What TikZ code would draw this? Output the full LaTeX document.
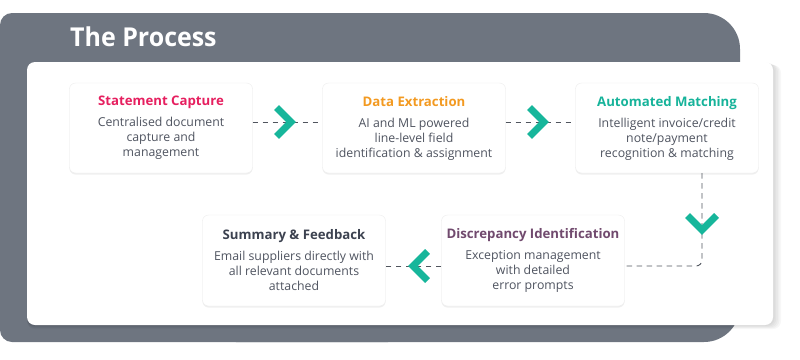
\documentclass[tikz,border=0pt]{standalone}
\usepackage{fontspec}
\setmainfont{Open Sans}
\newfontfamily\titlefont[FakeStretch=0.96]{Open Sans Bold}
\usetikzlibrary{shadows}
\definecolor{bggray}{HTML}{6E7580}
\definecolor{cpink}{HTML}{E61F5F}
\definecolor{corange}{HTML}{F39A21}
\definecolor{cteal}{HTML}{16B39A}
\definecolor{chev}{HTML}{17B69B}
\definecolor{cslate}{HTML}{3C4250}
\definecolor{cplum}{HTML}{714A6E}
\definecolor{cbody}{HTML}{4F5460}
\definecolor{cdash}{HTML}{50555E}
\tikzset{
  card/.style={rectangle, rounded corners=6pt, fill=white, draw=black!7,
    minimum width=183pt, minimum height=90pt, align=center, inner sep=0pt,
    font=\fontsize{12.3}{15}\selectfont, text=cbody,
    drop shadow={opacity=0.12, shadow xshift=0pt, shadow yshift=-1.5pt}},
  conn/.style={draw=cdash, line width=0.9pt, dash pattern=on 5.5pt off 4.5pt},
  chevline/.style={draw=chev, line width=7pt, line join=miter},
  chevright/.pic={\draw[chevline] (-9.5,-14.5) -- (5,0) -- (-9.5,14.5);},
  chevleft/.pic={\draw[chevline] (9.5,-14.5) -- (-5,0) -- (9.5,14.5);},
  chevdown/.pic={\draw[chevline] (-14.5,-9.5) -- (0,5) -- (14.5,-9.5);}
}
\newcommand{\cardtext}[3]{{\fontsize{13.2}{15}\selectfont\bfseries\color{#1}#2}\\[6pt]#3}
\begin{document}
\begin{tikzpicture}[x=1pt,y=-1pt]
\useasboundingbox (0,0) rectangle (800,359);
% gray background
\fill[bggray, rounded corners=12pt] (0,13) rectangle (400,342);
\fill[bggray, rounded corners=36pt] (200,13) rectangle (740,342);
\node[anchor=base west, text=white, font=\titlefont\fontsize{26}{26}\selectfont, inner sep=0pt] (title) at (70,46) {The Process};
% white panel shadow
\foreach \i in {1,...,5} {
  \fill[black, opacity=0.03, rounded corners=8pt] (27,62+\i*0.6) rectangle (773+\i*1.6,325+\i*0.8);
}
\fill[white, rounded corners=8pt] (27,62) rectangle (773,325);
% cards
\node[card] (c1) at (161,128) {\cardtext{cpink}{Statement Capture}{Centralised document\\capture and\\management}};
\node[card] (c2) at (414,128) {\cardtext{corange}{Data Extraction}{AI and ML powered\\line-level field\\identification \& assignment}};
\node[card] (c3) at (667,128) {\cardtext{cteal}{Automated Matching}{Intelligent invoice/credit\\note/payment\\recognition \& matching}};
\node[card, minimum height=91pt] (c4) at (294,260.5) {\cardtext{cslate}{Summary \& Feedback}{Email suppliers directly with\\all relevant documents\\attached}};
\node[card, minimum height=91pt] (c5) at (533,260.5) {\cardtext{cplum}{Discrepancy Identification}{Exception management\\with detailed\\error prompts}};
% connectors
\coordinate (turn) at (702,266);
\draw[conn] ([yshift=6pt]c1.east) -- ([yshift=6pt]c2.west);
\draw[conn] ([yshift=6pt]c2.east) -- ([yshift=6pt]c3.west);
\draw[conn, rounded corners=6pt] (c3.south -| turn) -- (turn) -- (c5.east |- turn);
\draw[conn] (c5.west |- turn) -- (c4.east |- turn);
% chevrons
\pic at (286,122) {chevright};
\pic at (539,122) {chevright};
\pic at (702,225) {chevdown};
\pic at (418,266) {chevleft};
\end{tikzpicture}
\end{document}
